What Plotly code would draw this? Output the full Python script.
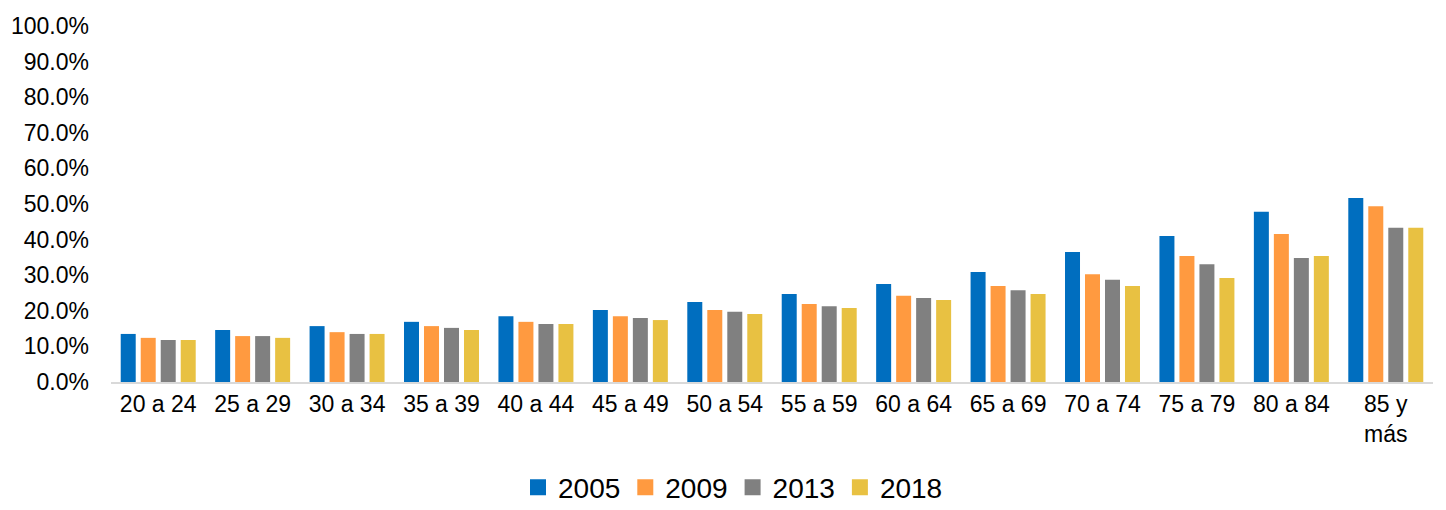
import plotly.graph_objects as go

categories = ["20 a 24", "25 a 29", "30 a 34", "35 a 39", "40 a 44", "45 a 49", "50 a 54",
              "55 a 59", "60 a 64", "65 a 69", "70 a 74", "75 a 79", "80 a 84", "85 y<br>más"]

s2005 = [0.135, 0.146, 0.157, 0.169, 0.185, 0.202, 0.225, 0.247, 0.275, 0.309, 0.365, 0.410, 0.478, 0.517]
s2009 = [0.124, 0.129, 0.140, 0.157, 0.169, 0.185, 0.202, 0.219, 0.242, 0.270, 0.303, 0.354, 0.416, 0.494]
s2013 = [0.118, 0.129, 0.135, 0.152, 0.163, 0.180, 0.197, 0.213, 0.236, 0.258, 0.287, 0.331, 0.348, 0.433]
s2018 = [0.118, 0.124, 0.135, 0.146, 0.163, 0.174, 0.191, 0.208, 0.230, 0.247, 0.270, 0.292, 0.354, 0.433]

series = [("2005", s2005, "#006EBF"), ("2009", s2009, "#FF9A40"),
          ("2013", s2013, "#808080"), ("2018", s2018, "#E8C142")]

fig = go.Figure()
for name, vals, color in series:
    fig.add_trace(go.Bar(x=categories, y=vals, name=name, showlegend=False,
                         marker=dict(color=color, line=dict(width=0))))
# legend entries with larger square swatches
for name, vals, color in series:
    fig.add_trace(go.Scatter(x=[None], y=[None], mode="markers", name=name, showlegend=True,
                             marker=dict(symbol="square", size=17, color=color, line=dict(width=0))))

fig.update_layout(
    width=1446, height=510,
    margin=dict(l=103, r=21, t=18, b=136, autoexpand=False),
    paper_bgcolor="white", plot_bgcolor="white",
    barmode="group", bargap=0.153, bargroupgap=0.25,
    font=dict(family="Liberation Sans, Arial, sans-serif", size=23, color="#000000"),
    showlegend=True,
    legend=dict(orientation="h", x=0.4705, xanchor="center", y=-0.226, yanchor="top",
                font=dict(size=28), traceorder="normal", itemsizing="trace", itemwidth=30),
)
fig.update_xaxes(showline=True, linecolor="#D9D9D9", linewidth=2, ticks="", showgrid=False,
                 automargin=False, tickfont=dict(size=23))
fig.update_yaxes(range=[0, 1], dtick=0.1, tickformat=".1%", showgrid=False, zeroline=False,
                 showline=False, ticks="", ticklabelstandoff=21, automargin=False,
                 tickfont=dict(size=23))

fig.write_html("out.html")
